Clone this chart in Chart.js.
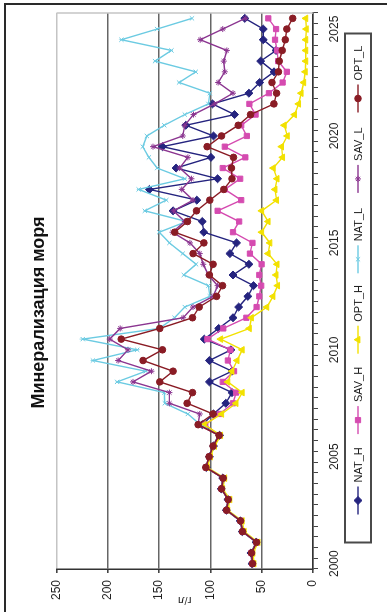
<!DOCTYPE html>
<html>
<head>
<meta charset="utf-8">
<title>Минерализация моря</title>
<script src="https://cdn.jsdelivr.net/npm/chart.js@4.4.1/dist/chart.umd.min.js"></script>
<style>
  html, body { margin: 0; padding: 0; background: #fff; overflow: hidden; }
  /* the chart is laid out landscape and turned a quarter turn to stand on the page */
  #wrap {
    position: absolute; left: 0; top: 0;
    width: 612px; height: 387px;
    transform-origin: 0 0;
    transform: translate(0, 612px) rotate(-90deg);
  }
</style>
</head>
<body>
<div id="wrap"><canvas id="salinityChart" width="612" height="387"></canvas></div>
<script>
// half-year steps, 2000 - 2025
const periods = [
    "2000", "2000.5", "2001", "2001.5", "2002", "2002.5", "2003", "2003.5", "2004", "2004.5",
    "2005", "2005.5", "2006", "2006.5", "2007", "2007.5", "2008", "2008.5", "2009", "2009.5",
    "2010", "2010.5", "2011", "2011.5", "2012", "2012.5", "2013", "2013.5", "2014", "2014.5",
    "2015", "2015.5", "2016", "2016.5", "2017", "2017.5", "2018", "2018.5", "2019", "2019.5",
    "2020", "2020.5", "2021", "2021.5", "2022", "2022.5", "2023", "2023.5", "2024", "2024.5",
    "2025", "2025.5"
];
const yearTicks = ["2000", "2005", "2010", "2015", "2020", "2025"];

// минерализация, г/л
const natH = [59.5, 60.5, 55.5, 69, 71, 84.5, 83, 89.5, 88, 104, 101, 97, 91,
    108, 97, 85, 79, 101, 79, 101, 80, 106, 92, 78, 72.5, 63.5, 58, 78, 62.5, 81,
    74.5, 106.5, 108, 136.4, 113.3, 159.5, 93, 133.5, 99.5, 146.8, 97, 124, 76.5, 98,
    62.5, 52, 38, 51, 36, 48.5, 48.5, 66.5];
const savH = [59, 60, 55, 68.5, 70.5, 84, 82.5, 89, 87.5, 104, 101, 97, 91.5,
    105, 91, 78, 75, 88, 77, 83, 80.5, 103, 87.5, 65, 55, 52.4, 50.5, 52.4, 50.1, 61.5,
    59, 78, 72, 93, 70, 86, 71, 88, 66, 86, 64.5, 70, 56, 62,
    43, 29.6, 25.5, 34, 35, 37, 36, 43.6];
const optH = [57.5, 58.5, 53.5, 67, 69, 83, 81, 88, 86, 103, 100, 96, 90,
    106, 89, 75, 69, 83, 79, 74, 69, 90, 62, 60, 45, 39, 34.5, 36, 35, 43.7,
    42, 50, 43.7, 50, 35.5, 37, 35, 38.7, 29.6, 30.6, 25, 28, 18, 14,
    11.5, 9, 7.5, 7, 7, 7, 6.5, 7];
const natL = [59, 60, 55, 68.5, 70.5, 84, 82.5, 89, 87.5, 104.5, 101.5, 97.5, 92,
    110, 122, 144.5, 145, 191, 163, 214.6, 171.4, 224.5, 150, 135, 125, 100.6, 102, 126, 114, 127,
    140, 150, 123.4, 164, 143, 170, 125, 152, 160, 166, 162, 145, 125, 102,
    100.6, 130.6, 114.3, 154, 138, 186.8, 152, 118];
const savL = [59, 60, 55, 68.5, 70.5, 84, 82.5, 89, 87.5, 104.5, 101.5, 97.5, 92,
    112, 110.4, 140, 140, 175.5, 157.5, 190, 180.4, 198.2, 188, 126.6, 117, 97.4, 93, 102, 107, 110.4,
    120, 137, 125, 136, 117, 128, 118.5, 130, 122, 156, 127, 125, 116.5, 96,
    78, 92.5, 86, 87, 84, 110, 88, 66];
const optL = [58.9, 59.9, 55, 68.7, 70.6, 84.3, 82.7, 89.2, 87.6, 104.5, 101.3, 97.4, 91.5,
    112, 97.4, 122.7, 117.5, 149.4, 136.4, 165.7, 146.8, 187, 149.4, 117.5, 111, 94, 88.2, 101, 97.4, 116.9,
    106.4, 134.8, 122.4, 113.6, 100.6, 87, 79, 79.5, 77.5, 103.2, 89.2, 72.9, 60.9, 38.1,
    35.5, 40, 33.7, 32.9, 30, 27, 25.5, 19.8];

Chart.defaults.font.family = "'Liberation Sans', Arial, sans-serif";
Chart.defaults.color = "#222";

function serie(label, data, color, pointStyle, radius, order) {
    return {
        label: label,
        data: data,
        borderColor: color,
        backgroundColor: color,
        borderWidth: 1.4,
        pointStyle: pointStyle,
        pointRadius: radius,
        pointBorderWidth: 1,
        tension: 0,
        order: order,
    };
}

//fond blanc, cadre extérieur et bord droit de la zone de tracé
const frame = {
    id: "frame",
    beforeDraw(chart) {
        const c = chart.ctx;
        c.save();
        c.fillStyle = "#fff";
        c.fillRect(0, 0, chart.width, chart.height);
        c.strokeStyle = "#2a2a2a";
        c.lineWidth = 2;
        c.strokeRect(-10, 5, chart.width - 4 + 10, chart.height + 20);
        c.restore();
    },
    beforeDatasetsDraw(chart) {
        const a = chart.chartArea;
        const c = chart.ctx;
        c.save();
        c.strokeStyle = "#c4c4c4";
        c.lineWidth = 1.5;
        c.beginPath();
        c.moveTo(a.right, a.top);
        c.lineTo(a.right, a.bottom);
        c.stroke();
        c.restore();
    },
};

//légende encadrée, trait + marqueur comme dans Excel
const boxLegend = {
    id: "boxLegend",
    afterDraw(chart) {
        const c = chart.ctx;
        const a = chart.chartArea;
        const w = 509, h = 26;
        const left = (a.left + a.right) / 2 - w / 2 + 3;
        const top = a.bottom + 32;
        const midY = top + h / 2;
        c.save();
        c.strokeStyle = "#4a4a4a";
        c.lineWidth = 2;
        c.strokeRect(left, top, w, h);
        c.font = "11px 'Liberation Sans', Arial, sans-serif";
        c.textBaseline = "middle";
        chart.data.datasets.forEach((ds, k) => {
            const cx = left + 42 + k * 80.4;
            c.strokeStyle = ds.borderColor;
            c.lineWidth = 1.4;
            c.beginPath();
            c.moveTo(cx - 14, midY);
            c.lineTo(cx + 14, midY);
            c.stroke();
            c.fillStyle = ds.backgroundColor;
            c.lineWidth = ds.pointBorderWidth;
            Chart.helpers.drawPoint(c, {pointStyle: ds.pointStyle, radius: ds.pointRadius, rotation: 0, borderWidth: ds.pointBorderWidth}, cx, midY);
            c.fillStyle = "#222";
            c.fillText(ds.label, cx + 18, midY + 0.5);
        });
        c.restore();
    },
};

let salinityCan = document.getElementById("salinityChart").getContext("2d");
var salinityChart = new Chart(salinityCan, {
    type: "line",
    data: {
        labels: periods,
        datasets: [
            serie("NAT_H", natH, "#25247f", "rectRot", 4, 5),
            serie("SAV_H", savH, "#d54bb0", "rect", 3.7, 4),
            serie("OPT_H", optH, "#f2e100", "triangle", 3.8, 3),
            serie("NAT_L", natL, "#6ccbe2", "crossRot", 3, 2),
            serie("SAV_L", savL, "#8b3590", "star", 3, 1),
            serie("OPT_L", optL, "#8a1c25", "circle", 3.3, 0),
        ],
    },
    options: {
        responsive: false,
        animation: false,
        events: [],
        layout: {
            padding: { left: 0, right: 13, top: 0, bottom: 44 },
        },
        scales: {
            x: {
                offset: true,
                grid: {
                    drawOnChartArea: false,
                    drawTicks: true,
                    tickLength: 5,
                    color: "#444",
                    offset: true,
                },
                border: { display: true, color: "#333", width: 1.5 },
                ticks: {
                    autoSkip: false,
                    maxRotation: 0,
                    minRotation: 0,
                    padding: 9,
                    font: { size: 12 },
                    callback: (v, i) => yearTicks.includes(periods[i]) ? periods[i] : "",
                },
                afterFit: (s) => { s.height = 30; },
            },
            y: {
                min: 0,
                max: 250,
                ticks: { stepSize: 50, padding: 7, font: { size: 12 } },
                grid: {
                    color: (g) => g.tick && g.tick.value === 250 ? "#c4c4c4" : "#666",
                    lineWidth: 1.6,
                    tickLength: 4,
                    tickColor: "#444",
                },
                border: { display: true, color: "#333", width: 1.5 },
                title: {
                    display: true,
                    text: "г/л",
                    font: { size: 11 },
                    padding: { top: 5, bottom: 0 },
                },
                afterFit: (s) => { s.width = 43; },
            },
        },
        plugins: {
            legend: { display: false },
            tooltip: { enabled: false },
            title: {
                display: true,
                text: "Минерализация моря",
                color: "#111",
                font: { size: 18, weight: "bold" },
                padding: { top: 28, bottom: 7 },
            },
        },
    },
    plugins: [frame, boxLegend],
});
</script>
</body>
</html>
